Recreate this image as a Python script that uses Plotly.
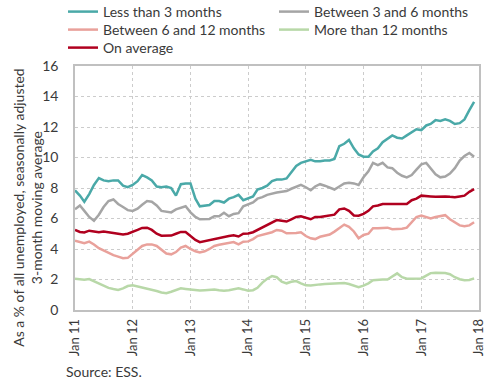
import pandas as pd
import plotly.graph_objects as go

months = pd.date_range("2011-01-01", "2017-12-01", freq="MS")

less_3 = [7.85, 7.5, 7.1, 7.6, 8.2, 8.65, 8.5, 8.45, 8.5, 8.5, 8.15, 8.05,
          8.2, 8.45, 8.85, 8.7, 8.5, 8.1, 8.05, 8.1, 8.0, 7.5, 8.25, 8.3,
          8.3, 7.3, 6.8, 6.82, 6.88, 7.15, 7.15, 7.05, 7.3, 7.4, 7.55, 7.2,
          7.3, 7.45, 7.9, 8.0, 8.15, 8.45, 8.55, 8.55, 8.63, 9.05, 9.45, 9.65,
          9.75, 9.85, 9.75, 9.75, 9.8, 9.8, 9.9, 10.75, 10.9, 11.15, 10.6, 10.2,
          10.05, 10.05, 10.4, 10.6, 11.0, 11.25, 11.45, 11.3, 11.25, 11.45, 11.65, 11.85,
          11.8, 12.1, 12.2, 12.45, 12.4, 12.5, 12.4, 12.2, 12.25, 12.5, 13.1, 13.65]

btw_3_6 = [6.6, 6.85, 6.5, 6.1, 5.85, 6.25, 6.75, 7.15, 7.25, 6.95, 6.75, 6.55,
           6.5, 6.65, 6.9, 7.15, 7.1, 6.85, 6.5, 6.45, 6.4, 6.6, 6.7, 6.8,
           6.4, 6.1, 5.95, 5.97, 5.97, 6.15, 6.15, 6.38, 6.15, 6.3, 6.35, 6.8,
           6.9, 7.05, 7.3, 7.4, 7.55, 7.65, 7.7, 7.75, 7.8, 7.95, 8.1, 8.2,
           8.05, 7.85, 8.1, 8.25, 8.15, 8.0, 7.9, 8.1, 8.3, 8.35, 8.3, 8.2,
           8.7, 9.1, 9.65, 9.5, 9.65, 9.35, 9.3, 9.0, 8.8, 8.7, 8.85, 9.2,
           9.55, 9.65, 9.3, 8.9, 8.7, 8.75, 8.95, 9.3, 9.8, 10.1, 10.3, 10.05]

btw_6_12 = [4.55, 4.45, 4.38, 4.48, 4.3, 4.05, 3.9, 3.75, 3.6, 3.5, 3.4, 3.42,
            3.7, 3.95, 4.2, 4.3, 4.3, 4.2, 3.95, 3.7, 3.65, 3.8, 4.1, 4.2,
            4.0, 3.85, 3.78, 3.85, 4.0, 4.2, 4.28, 4.35, 4.38, 4.45, 4.3, 4.48,
            4.5, 4.65, 4.85, 4.92, 5.0, 5.1, 5.25, 5.2, 5.03, 5.03, 5.05, 5.1,
            4.85, 4.7, 4.65, 4.8, 4.85, 4.95, 5.14, 5.4, 5.6, 5.45, 5.15, 4.7,
            4.92, 5.0, 5.36, 5.36, 5.36, 5.4, 5.3, 5.3, 5.33, 5.4, 5.75, 6.1,
            6.2, 6.1, 6.0, 6.1, 6.15, 6.22, 5.95, 5.73, 5.55, 5.5, 5.55, 5.75]

more_12 = [2.05, 2.0, 1.98, 2.03, 1.9, 1.75, 1.6, 1.45, 1.38, 1.32, 1.42, 1.57,
           1.62, 1.55, 1.45, 1.4, 1.32, 1.25, 1.15, 1.1, 1.2, 1.3, 1.42, 1.38,
           1.35, 1.3, 1.28, 1.3, 1.33, 1.35, 1.3, 1.27, 1.3, 1.38, 1.42, 1.35,
           1.27, 1.3, 1.46, 1.8, 2.05, 2.22, 2.15, 1.86, 1.75, 1.85, 1.9, 1.75,
           1.62, 1.6, 1.65, 1.68, 1.7, 1.72, 1.75, 1.77, 1.77, 1.7, 1.6, 1.5,
           1.6, 1.75, 1.95, 2.0, 2.0, 2.0, 2.2, 2.4, 2.15, 2.05, 2.05, 2.07,
           2.07, 2.25, 2.42, 2.45, 2.44, 2.42, 2.35, 2.15, 2.02, 1.95, 1.97, 2.07]

on_average = [5.25, 5.12, 5.08, 5.2, 5.15, 5.1, 5.15, 5.12, 5.05, 5.0, 4.95, 5.0,
              5.1, 5.25, 5.38, 5.4, 5.25, 5.0, 4.87, 4.87, 4.88, 5.0, 5.12, 5.12,
              4.85, 4.6, 4.45, 4.52, 4.6, 4.68, 4.72, 4.78, 4.85, 4.9, 4.82, 5.0,
              5.02, 5.1, 5.25, 5.45, 5.6, 5.75, 5.9, 5.85, 5.8, 5.95, 6.1, 6.15,
              6.05, 5.95, 6.1, 6.1, 6.15, 6.2, 6.25, 6.6, 6.66, 6.5, 6.2, 6.18,
              6.3, 6.5, 6.8, 6.85, 6.95, 6.95, 6.95, 6.95, 6.92, 6.95, 7.2, 7.3,
              7.5, 7.45, 7.45, 7.42, 7.45, 7.45, 7.42, 7.4, 7.45, 7.5, 7.75, 7.92]

series_names = ["Less than 3 months", "Between 3 and 6 months",
                "Between 6 and 12 months", "More than 12 months", "On average"]
series_values = [less_3, btw_3_6, btw_6_12, more_12, on_average]
series_colors = ["#4AA9A8", "#A5A5A5", "#E9A19B", "#B8D8A8", "#B0001F"]

tick_years = list(range(2011, 2019))
tick_vals = [pd.Timestamp(f"{y}-01-01") for y in tick_years]
tick_text = [f"Jan {str(y)[2:]}" for y in tick_years]
y_ticks = [0, 2, 4, 6, 8, 10, 12, 14, 16]

FONT = "Lato"
TXT = "#3a3a3a"
W, H = 490, 382

# legend slot for each series: (column left px, row centre px)
legend_slots = [(63, 12), (274, 12), (63, 30), (274, 30), (63, 48)]

fig = go.Figure()
legend_layout = {}
for i, (name, vals, col) in enumerate(zip(series_names, series_values, series_colors)):
    lg = "legend" if i == 0 else f"legend{i + 1}"
    fig.add_trace(go.Scatter(x=months, y=vals, mode="lines", name=name,
                             line=dict(color=col, width=2.5), legend=lg))
    lx, ly = legend_slots[i]
    legend_layout[lg] = dict(xref="container", yref="container",
                             x=lx / W, y=1 - ly / H, xanchor="left", yanchor="middle",
                             orientation="v", itemwidth=30,
                             font=dict(family=FONT, size=14, color=TXT),
                             bgcolor="rgba(0,0,0,0)", borderwidth=0)

fig.update_layout(
    width=W, height=H,
    margin=dict(l=75, r=11, t=66, b=72, autoexpand=False),
    paper_bgcolor="white", plot_bgcolor="white",
    font=dict(family=FONT, size=14, color=TXT),
    showlegend=True,
    xaxis=dict(range=[pd.Timestamp("2011-01-01"), pd.Timestamp("2018-01-01")],
               tickvals=tick_vals, ticktext=tick_text, tickangle=-90,
               showgrid=True, gridcolor="#cccccc", griddash="dot", gridwidth=1,
               showline=True, linecolor="#c0c0c0", linewidth=1.5, mirror=True,
               ticks="", zeroline=False, automargin=False, ticklabelstandoff=2,
               tickfont=dict(family=FONT, size=13, color=TXT)),
    yaxis=dict(range=[0, 16], tickvals=y_ticks,
               showgrid=True, gridcolor="#cccccc", griddash="dot", gridwidth=1,
               showline=True, linecolor="#c0c0c0", linewidth=1.5, mirror=True,
               ticks="", zeroline=False, ticklabelstandoff=12, automargin=False,
               tickfont=dict(family=FONT, size=14, color=TXT)),
    **legend_layout,
)

fig.add_annotation(text="As a % of all unemployed, seasonally adjusted<br>3-month moving average",
                   xref="paper", yref="paper", x=-0.118, y=0.42,
                   xanchor="center", yanchor="middle", textangle=-90,
                   showarrow=False, font=dict(family=FONT, size=14, color=TXT))
fig.add_annotation(text="Source: ESS.", xref="paper", yref="paper",
                   x=-0.027, y=-0.25, xanchor="left", yanchor="middle",
                   showarrow=False, font=dict(family=FONT, size=14, color=TXT))

fig.write_html("out.html", config={"displayModeBar": False},
               post_script="document.body.style.margin='0';document.body.style.overflow='hidden';")
